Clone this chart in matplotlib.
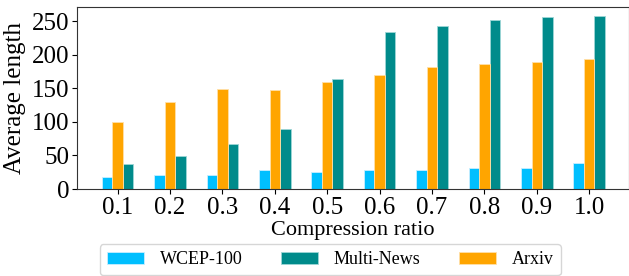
import matplotlib
matplotlib.use("Agg")
import matplotlib.pyplot as plt
import numpy as np

ratios = ["0.1", "0.2", "0.3", "0.4", "0.5", "0.6", "0.7", "0.8", "0.9", "1.0"]
wcep = [18, 21, 21, 28, 26, 29, 28, 31, 32, 39]
arxiv = [100, 130, 149, 148, 160, 169, 181, 186, 189, 194]
multinews = [38, 49, 67, 90, 164, 234, 243, 251, 256, 257]

plt.rcParams['font.family'] = ['Liberation Serif', 'DejaVu Serif']

fig = plt.figure(figsize=(6.29, 2.76), dpi=100)
ax = fig.add_axes([0.122, 0.315, 0.878, 0.66])

x = np.arange(len(ratios))
w = 0.2
b1 = ax.bar(x - w, wcep, w, color='#00BFFF', edgecolor='#C8EEFF', linewidth=0.6, label='WCEP-100')
b3 = ax.bar(x + w, multinews, w, color='#008B8B', edgecolor='#9ED6D6', linewidth=0.6, label='Multi-News')
b2 = ax.bar(x, arxiv, w, color='#FFA500', edgecolor='#FFE0A8', linewidth=0.6, label='Arxiv')

ax.set_xticks(x)
ax.set_xticklabels(ratios)
ax.set_xlim(-0.78, 9.76)
ax.set_ylim(0, 271)
ax.set_yticks([0, 50, 100, 150, 200, 250])
ax.tick_params(axis='both', labelsize=18, pad=2)
ax.set_ylabel('Average length', fontsize=18, labelpad=4)
ax.set_xlabel('Compression ratio', fontsize=16, labelpad=2)
for s in ax.spines.values():
    s.set_color('#333333')

fig.legend(handles=[b1, b3, b2], labels=['WCEP-100', 'Multi-News', 'Arxiv'],
           loc='upper center', bbox_to_anchor=(0.525, 0.116), ncol=3,
           fontsize=13, handlelength=2.05, handletextpad=0.9, columnspacing=2.1,
           frameon=True, borderpad=0.4, borderaxespad=0)

fig.savefig('out.png', dpi=100)
